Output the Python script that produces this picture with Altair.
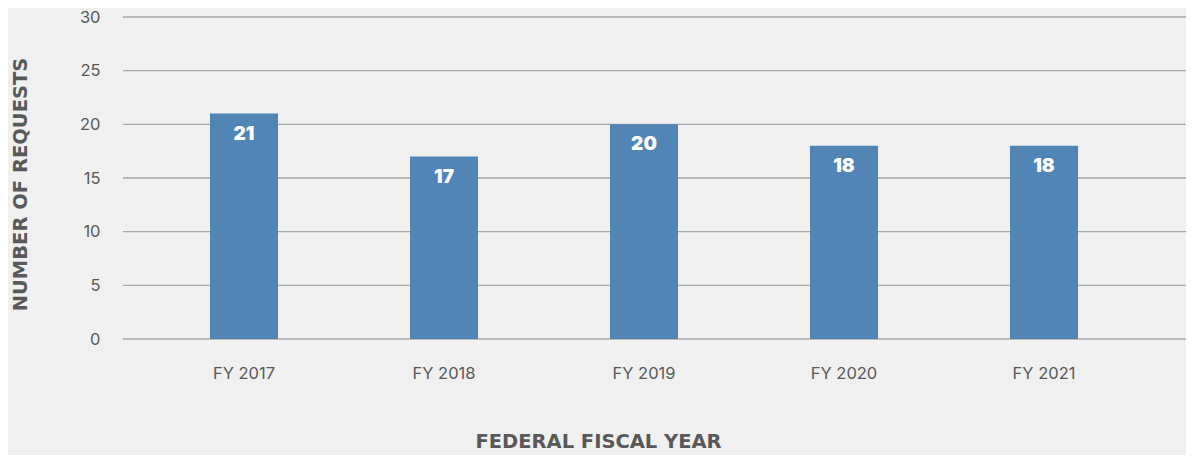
import altair as alt
import pandas as pd

years = ["FY 2017", "FY 2018", "FY 2019", "FY 2020", "FY 2021"]
requests = [21, 17, 20, 18, 18]
y_ticks = [0, 5, 10, 15, 20, 25, 30]

df = pd.DataFrame({"year": years, "requests": requests})
grid_df = pd.DataFrame({"tick": y_ticks})

BG = "#eff0ef"
BAR = "#5185b5"
GRID = "#a8a8a8"
TXT = "#595959"
LABEL_FONT = "Inter"
TITLE_FONT = "DejaVu Sans"

x_enc = alt.X(
    "year:N",
    sort=years,
    scale=alt.Scale(paddingInner=0.66, paddingOuter=0.435),
    axis=alt.Axis(
        title="FEDERAL FISCAL YEAR",
        labelAngle=0,
        labelFont=LABEL_FONT,
        labelFontSize=16.5,
        labelColor=TXT,
        labelPadding=26,
        ticks=False,
        domain=False,
        titleFont=TITLE_FONT,
        titleFontSize=19.5,
        titleFontWeight="bold",
        titleColor=TXT,
        titleX=475,
        titleY=102,
        titleBaseline="middle",
        titleAlign="center",
    ),
)

y_scale = alt.Scale(domain=[0, 30])

y_axis = alt.Axis(
    title="NUMBER OF REQUESTS",
    values=y_ticks,
    grid=False,
    ticks=False,
    domain=False,
    labelFont=LABEL_FONT,
    labelFontSize=16.5,
    labelColor=TXT,
    labelPadding=23,
    titleFont=TITLE_FONT,
    titleFontSize=19.5,
    titleFontWeight="bold",
    titleColor=TXT,
    titleX=-103,
    titleY=167,
    titleAngle=270,
    titleBaseline="middle",
    titleAlign="center",
)

grid = alt.Chart(grid_df).mark_rule(color=GRID, strokeWidth=1.3).encode(
    y=alt.Y("tick:Q", scale=y_scale, axis=y_axis),
    x=alt.value(0),
    x2=alt.value(1075),
)

bars = alt.Chart(df).mark_bar(color=BAR).encode(
    x=x_enc,
    y=alt.Y("requests:Q", scale=y_scale, axis=y_axis),
)

labels = alt.Chart(df).mark_text(
    color="white",
    font="Inter",
    fontSize=19,
    fontWeight=900,
    baseline="middle",
    dy=20,
).encode(
    x=alt.X("year:N", sort=years),
    y=alt.Y("requests:Q", scale=y_scale, axis=y_axis),
    text=alt.Text("requests:Q"),
)

chart = (
    alt.layer(grid, bars, labels)
    .properties(
        width=1042,
        height=322,
        background=BG,
        padding={"left": 115, "top": 9, "right": 21, "bottom": 116},
        autosize=alt.AutoSizeParams(type="none"),
    )
    .configure_view(stroke=None)
)

chart.save("out.html", embed_options={"renderer": "svg", "actions": False})
